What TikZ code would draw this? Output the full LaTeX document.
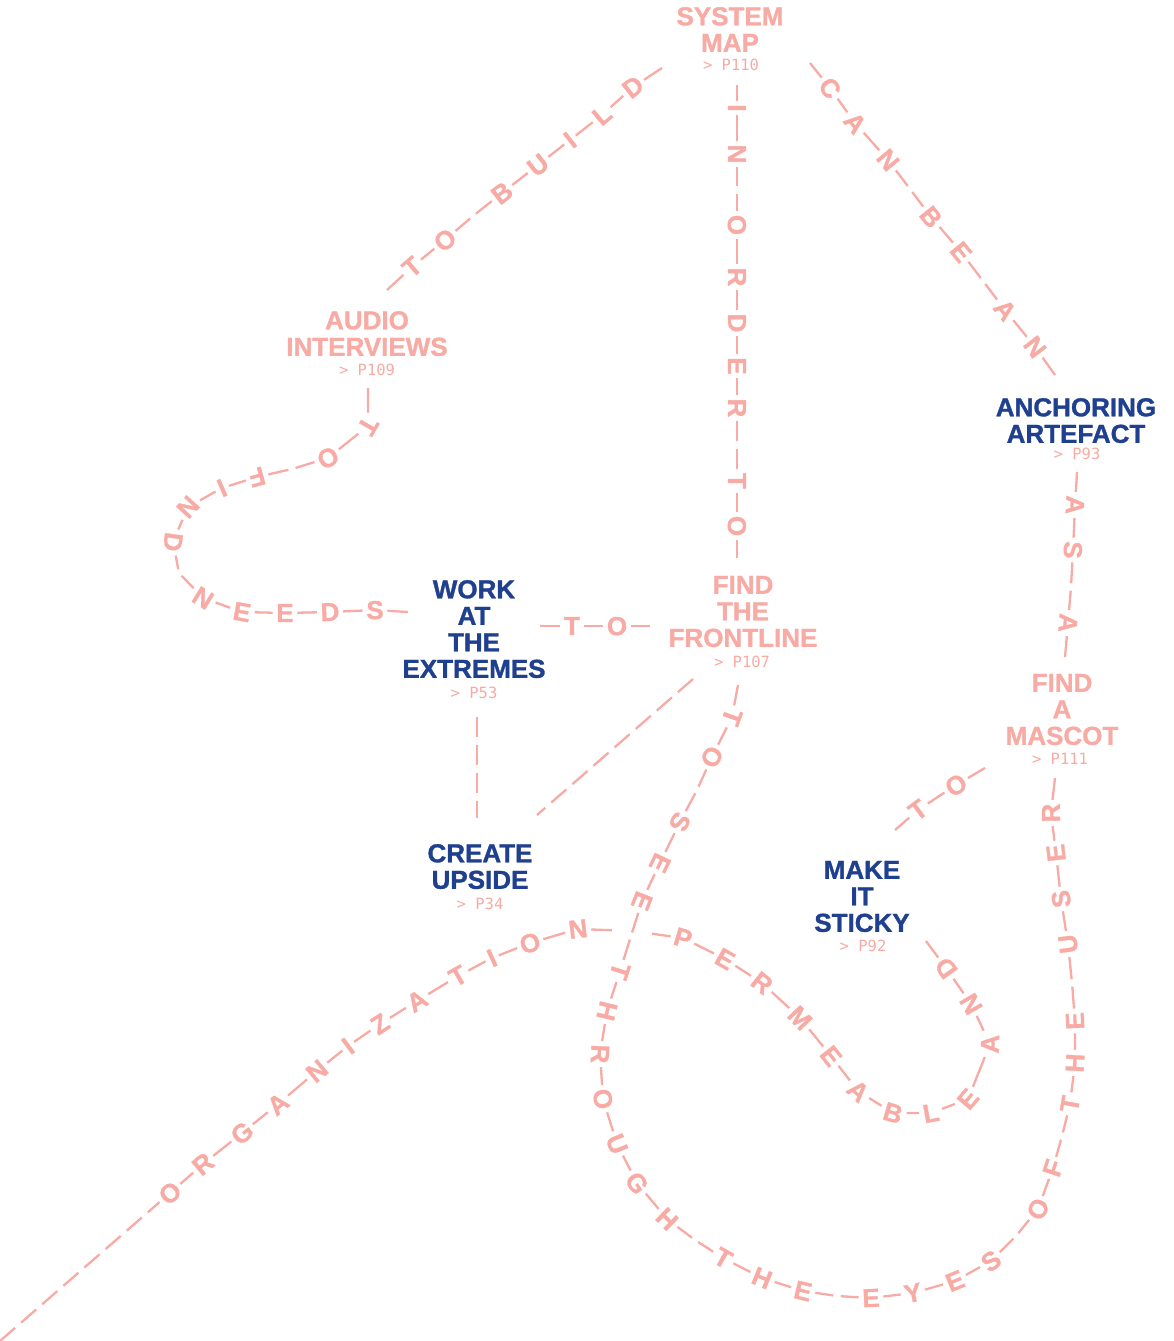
\documentclass[tikz,border=0pt]{standalone}
\usepackage{fontspec}
\setmainfont{Liberation Sans}
\newfontfamily\heavyfont{Liberation Sans Bold}[FakeBold=1.2]
\newfontfamily\reffamily{DejaVu Sans Mono}
\usetikzlibrary{calc}
\definecolor{pinkc}{RGB}{247,171,164}
\definecolor{bluec}{RGB}{31,63,143}
\tikzset{
  lett/.style={font=\fontsize{26}{26}\selectfont\heavyfont, text=pinkc, inner sep=3.5pt, text depth=0pt},
  seg/.style={draw=pinkc, line width=2.3pt},
  dashline/.style={draw=pinkc, line width=2.3pt, dash pattern=on 20pt off 8pt},
  head/.style={font=\fontsize{26}{26.5}\selectfont\heavyfont, align=center, inner sep=0pt, text depth=0pt, anchor=south},
  reftxt/.style={font=\fontsize{15.5}{16}\selectfont\reffamily, text=pinkc, inner sep=0pt, anchor=base}
}
\newcommand\mkchain[3]{%
  \foreach[count=\ci] \cx/\cy/\cl in {#3}{\coordinate (#1-p\ci) at (\cx,\cy);\xdef\chainn{\ci}}%
  \foreach[count=\ci] \cx/\cy/\cl in {#3}{%
    \ifnum\ci=1 \coordinate (#1-\ci) at (#1-p\ci);\else
    \ifnum\ci=\chainn\relax \coordinate (#1-\ci) at (#1-p\ci);\else
      \pgfmathtruncatemacro\cprev{\ci-1}%
      \pgfmathtruncatemacro\cnext{\ci+1}%
      \path let \p1=(#1-p\cprev), \p2=(#1-p\cnext), \n1={atan2(\y2-\y1,\x2-\x1)} in
        node[lett, rotate=\n1] (#1-\ci) at (#1-p\ci) {\cl};
    \fi\fi}%
  \foreach \ci in {2,...,\chainn}{%
    \pgfmathtruncatemacro\cprev{\ci-1}%
    \ifnum\cprev=1 \draw[#2] (#1-\cprev) -- (#1-\ci);\else
    \draw[seg] (#1-\cprev) -- (#1-\ci);\fi}%
}
\begin{document}
\begin{tikzpicture}[x=1pt,y=-1pt]
\useasboundingbox (0,0) rectangle (1173,1341);

% headings
\node[head, text=pinkc] (sysmap) at (730,52) {SYSTEM\\MAP};
\node[reftxt] (sysmap-ref) at (731,70) {> P110};
\node[head, text=pinkc] (audio) at (367,356) {AUDIO\\INTERVIEWS};
\node[reftxt] (audio-ref) at (367,375) {> P109};
\node[head, text=bluec] (anchor) at (1076,443) {ANCHORING\\ARTEFACT};
\node[reftxt] (anchor-ref) at (1077,459) {> P93};
\node[head, text=pinkc] (front) at (743,647) {FIND\\THE\\FRONTLINE};
\node[reftxt] (front-ref) at (742,667) {> P107};
\node[head, text=bluec] (work) at (474,678) {WORK\\AT\\THE\\EXTREMES};
\node[reftxt] (work-ref) at (474,698) {> P53};
\node[head, text=bluec] (create) at (480,889) {CREATE\\UPSIDE};
\node[reftxt] (create-ref) at (480,909) {> P34};
\node[head, text=pinkc] (mascot) at (1062,745) {FIND\\A\\MASCOT};
\node[reftxt] (mascot-ref) at (1060,764) {> P111};
\node[head, text=bluec] (sticky) at (862,932) {MAKE\\IT\\STICKY};
\node[reftxt] (sticky-ref) at (863,951) {> P92};

% plain dashed connectors
\coordinate (wk-s) at (477,717);
\coordinate (cu-n) at (477,818);
\draw[dashline] (wk-s) -- (cu-n);
\coordinate (fr-sw) at (693,679);
\coordinate (cu-ne) at (537,815);
\draw[dashline] (fr-sw) -- (cu-ne);

% lettered connectors
\mkchain{bld}{seg}{387/290/{}, 412/267/T, 445/240/O, 473/216/{}, 502/193/B, 538/165/U, 570/140/I, 602/115/L, 633/87/D, 662/68/{}}
\mkchain{ord}{seg}{737/85/{}, 737/108/I, 737/154/N, 737/190/{}, 737/225/O, 737/277/R, 737/323/D, 737/366/E, 737/408/R, 737/445/{}, 737/481/T, 737/526/O, 737/558/{}}
\mkchain{can}{seg}{810/63/{}, 830/88/C, 855/123/A, 888/160/N, 910/189/{}, 931/217/B, 961/252/E, 983/281/{}, 1005/310/A, 1035/347/N, 1055/375/{}}
\mkchain{asa}{seg}{1077/472/{}, 1075/505/A, 1073/550/S, 1071/587/{}, 1068/623/A, 1065/657/{}}
\mkchain{fnd}{seg}{368/388/{}, 368/426/T, 328/458/O, 292/469/{}, 257/477/F, 222/488/I, 188/507/N, 173/542/D, 179/573/{}, 203/598/N, 242/612/E, 285/613/E, 330/612/D, 375/610/S, 408/612/{}}
\mkchain{toa}{seg}{540/626/{}, 572/626/T, 617/626/O, 650/626/{}}
\mkchain{see}{seg}{738/685/{}, 732/717/T, 712/757/O, 697/790/{}, 680/822/S, 660/863/E, 642/901/E, 631/936/{}, 620/971/T, 607/1011/H, 600/1054/R, 603/1099/O, 617/1144/U, 637/1183/G, 667/1219/H, 695/1240/{}, 723/1258/T, 762/1278/H, 803/1291/E, 837/1296/{}, 871/1298/E, 913/1293/Y, 955/1281/E, 991/1261/S, 1016/1236/{}, 1038/1209/O, 1053/1168/F, 1062/1136/{}, 1070/1104/T, 1075/1063/H, 1075/1021/E, 1072/983/{}, 1068/944/U, 1061/899/S, 1056/853/E, 1051/813/R, 1055/778/{}}
\mkchain{tob}{seg}{895/830/{}, 918/810/T, 956/785/O, 985/768/{}}
\mkchain{org}{dashline}{0/1341/{}, 170/1193/O, 203/1164/R, 242/1133/G, 278/1104/A, 317/1071/N, 348/1046/I, 380/1024/Z, 417/1001/A, 458/976/T, 492/958/I, 530/943/O, 578/929/N, 632/931/{\hspace*{33pt}}, 683/938/P, 725/959/E, 762/983/R, 800/1018/M, 831/1056/E, 858/1091/A, 893/1113/B, 931/1113/L, 968/1099/E, 990/1044/A, 971/1004/N, 946/968/D, 926/941/{}}
\end{tikzpicture}
\end{document}
